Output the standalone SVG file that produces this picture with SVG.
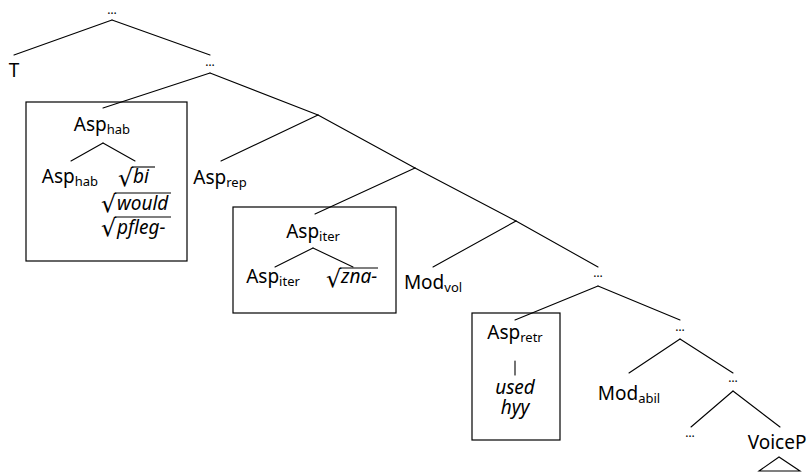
<svg xmlns="http://www.w3.org/2000/svg" width="808" height="472" viewBox="0 0 808 472">
  <style>
    .lbl { font-family: "Noto Sans", "Open Sans", sans-serif; font-size: 19px; fill: #000; text-anchor: middle; }
    .start { text-anchor: start; }
    .sub { font-size: 13px; }
    .it { font-style: italic; }
    .dots { font-family: "Noto Sans", sans-serif; font-size: 12px; fill: #000; text-anchor: middle; }
    .rad { font-family: "DejaVu Sans", sans-serif; font-size: 24px; fill: #000; }
    .edge { stroke: #000; stroke-width: 1.1; fill: none; stroke-linecap: round; }
    .box { fill: none; stroke: #000; stroke-width: 1.2; }
    .bar { stroke: #000; stroke-width: 1.1; }
  </style>
  <rect width="808" height="472" fill="#fff"/>

  <!-- tree branches -->
  <g id="connectors" class="edge">
    <line x1="112" y1="20" x2="14" y2="55"/>
    <line x1="112" y1="20" x2="210" y2="55"/>
    <line x1="210" y1="73" x2="103" y2="108"/>
    <line x1="210" y1="73" x2="318" y2="115"/>
    <line x1="318" y1="115" x2="221" y2="161"/>
    <line x1="318" y1="115" x2="415" y2="168"/>
    <line x1="415" y1="168" x2="315" y2="214"/>
    <line x1="415" y1="168" x2="516" y2="221"/>
    <line x1="516" y1="221" x2="433" y2="267"/>
    <line x1="516" y1="221" x2="598" y2="267"/>
    <line x1="598" y1="286" x2="515" y2="320"/>
    <line x1="598" y1="286" x2="680" y2="320"/>
    <line x1="680" y1="339" x2="629" y2="373"/>
    <line x1="680" y1="339" x2="733" y2="373"/>
    <line x1="733" y1="391" x2="691" y2="427"/>
    <line x1="733" y1="391" x2="780" y2="427"/>
    <!-- branches inside the boxed heads -->
    <line x1="103" y1="143" x2="71" y2="161"/>
    <line x1="103" y1="143" x2="135" y2="161"/>
    <line x1="313" y1="248" x2="275" y2="267"/>
    <line x1="313" y1="248" x2="353" y2="267"/>
    <line x1="515" y1="361" x2="515" y2="375"/>
    <!-- VoiceP subtree triangle -->
    <polygon points="779,457 759,471 800,471"/>
  </g>

  <g id="root"><text class="dots" x="112" y="14">…</text></g>
  <g id="T"><text class="lbl" x="14" y="77">T</text></g>
  <g id="n1"><text class="dots" x="210" y="66">…</text></g>

  <g id="asp-hab">
    <rect class="box" x="26" y="102" width="161" height="159"/>
    <text class="lbl" x="102" y="131">Asp<tspan class="sub" dy="3">hab</tspan></text>
    <text class="lbl" x="70" y="183">Asp<tspan class="sub" dy="3">hab</tspan></text>
    <text class="rad" x="118" y="186">√</text>
    <line class="bar" x1="132" y1="167" x2="155" y2="167"/>
    <text class="lbl start it" x="133" y="183">bi</text>
    <text class="rad" x="101" y="212">√</text>
    <line class="bar" x1="115" y1="193" x2="171" y2="193"/>
    <text class="lbl start it" x="117" y="210">would</text>
    <text class="rad" x="101" y="236">√</text>
    <line class="bar" x1="115" y1="217" x2="171" y2="217"/>
    <text class="lbl start it" x="117" y="234">pfleg-</text>
  </g>

  <g id="asp-rep"><text class="lbl" x="220" y="184">Asp<tspan class="sub" dy="3">rep</tspan></text></g>

  <g id="asp-iter">
    <rect class="box" x="233" y="207" width="163" height="106"/>
    <text class="lbl" x="313" y="238">Asp<tspan class="sub" dy="3">iter</tspan></text>
    <text class="lbl" x="273" y="283">Asp<tspan class="sub" dy="3">iter</tspan></text>
    <text class="rad" x="326" y="287">√</text>
    <line class="bar" x1="340" y1="268" x2="378" y2="268"/>
    <text class="lbl start it" x="341" y="283">zna-</text>
  </g>

  <g id="mod-vol"><text class="lbl" x="433" y="289">Mod<tspan class="sub" dy="3">vol</tspan></text></g>
  <g id="n2"><text class="dots" x="598" y="277">…</text></g>

  <g id="asp-retr">
    <rect class="box" x="472" y="313" width="88" height="127"/>
    <text class="lbl" x="515" y="339">Asp<tspan class="sub" dy="3">retr</tspan></text>
    <text class="lbl it" x="515" y="394">used</text>
    <text class="lbl it" x="515" y="414">hyy</text>
  </g>

  <g id="n3"><text class="dots" x="680" y="331">…</text></g>
  <g id="mod-abil"><text class="lbl" x="629" y="400">Mod<tspan class="sub" dy="3">abil</tspan></text></g>
  <g id="n4"><text class="dots" x="733" y="382">…</text></g>
  <g id="n5"><text class="dots" x="690" y="437">…</text></g>
  <g id="voicep"><text class="lbl" x="777" y="449">VoiceP</text></g>
</svg>
